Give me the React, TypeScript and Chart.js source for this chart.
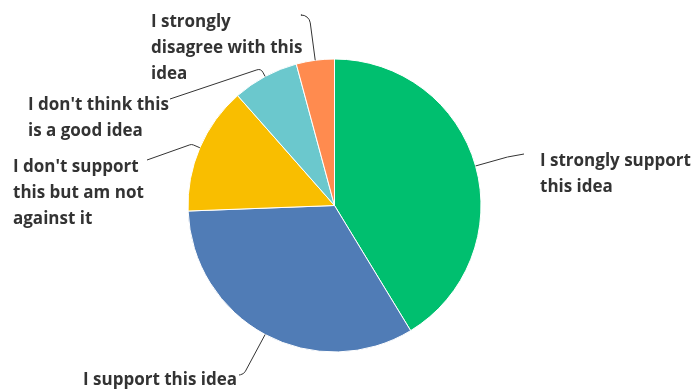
import React, { useEffect, useRef } from "react";
import { Chart, registerables } from "chart.js";

Chart.register(...registerables);

const categories = [
  "I strongly support this idea",
  "I support this idea",
  "I don't support this but am not against it",
  "I don't think this is a good idea",
  "I strongly disagree with this idea",
];
const values = [41.3, 33.1, 14.1, 7.3, 4.2];
const colors = ["#00BF6F", "#507CB6", "#F9BE00", "#6BC8CD", "#FF8B4F"];
const labelLines = [
  ["I strongly support", "this idea"],
  ["I support this idea"],
  ["I don't support", "this but am not", "against it"],
  ["I don't think this", "is a good idea"],
  ["I strongly", "disagree with this", "idea"],
];

// label layout (text anchor, leader end point, radial extension of the elbow)
const labelLayout = [
  { x: 540, y: 166, ex: 524, ey: 154, ext: 33, round: 8 },
  { x: 83, y: 385, ex: 239, ey: 375, ext: 45, round: 7 },
  { x: 13, y: 172, ex: 147, ey: 160, ext: 9, round: 5 },
  { x: 28, y: 110, ex: 170, ey: 99, ext: 9, round: 5 },
  { x: 151, y: 27, ex: 302, ey: 15, ext: 46, round: 9 },
];
const LINE_H = 26;
const FONT = "700 17px 'Open Sans'";
const TEXT_COLOR = "#333333";

const leaderPlugin = {
  id: "leaders",
  afterDatasetsDraw(chart: any) {
    const ctx = chart.ctx;
    const meta = chart.getDatasetMeta(0);
    meta.data.forEach((arc: any, i: number) => {
      const { x, y, startAngle, endAngle, outerRadius } = arc.getProps(
        ["x", "y", "startAngle", "endAngle", "outerRadius"],
        true
      );
      const mid = (startAngle + endAngle) / 2;
      const L = labelLayout[i];
      const sx = x + Math.cos(mid) * outerRadius;
      const sy = y + Math.sin(mid) * outerRadius;
      const cx = x + Math.cos(mid) * (outerRadius + L.ext);
      const cy = y + Math.sin(mid) * (outerRadius + L.ext);
      ctx.save();
      ctx.strokeStyle = "#333";
      ctx.lineWidth = 1;
      ctx.beginPath();
      ctx.moveTo(sx, sy);
      ctx.arcTo(cx, cy, L.ex, L.ey, L.round);
      ctx.lineTo(L.ex, L.ey);
      ctx.stroke();
      ctx.fillStyle = TEXT_COLOR;
      ctx.font = FONT;
      ctx.textAlign = "left";
      ctx.textBaseline = "alphabetic";
      labelLines[i].forEach((line, j) => {
        ctx.fillText(line, L.x, L.y + j * LINE_H);
      });
      ctx.restore();
    });
  },
};

export default function App() {
  const ref = useRef<HTMLCanvasElement | null>(null);
  useEffect(() => {
    if (!ref.current) return;
    const chart = new Chart(ref.current, {
      type: "pie",
      data: {
        labels: categories,
        datasets: [
          {
            data: values,
            backgroundColor: colors,
            borderColor: "#ffffff",
            borderWidth: 1,
          },
        ],
      },
      options: {
        responsive: false,
        animation: false,
        layout: { padding: { top: 58.5, bottom: 38.5, left: 187.5, right: 209.5 } },
        plugins: {
          legend: { display: false },
          tooltip: { enabled: false },
        },
      },
      plugins: [leaderPlugin],
    });
    return () => chart.destroy();
  }, []);
  return (
    <canvas
      ref={ref}
      width={691}
      height={391}
      style={{ position: "absolute", left: 0, top: 0, width: 691, height: 391, display: "block" }}
    />
  );
}
